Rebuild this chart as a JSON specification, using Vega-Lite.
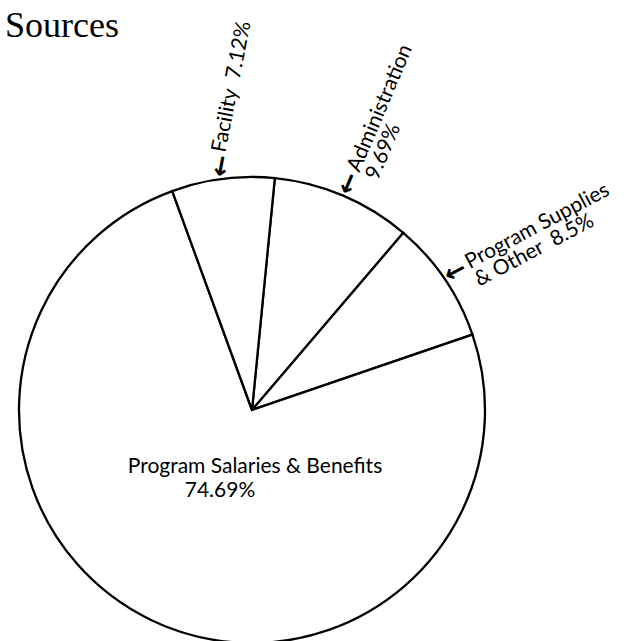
{
  "$schema": "https://vega.github.io/schema/vega-lite/v6.json",
  "width": 504,
  "height": 460,
  "autosize": "none",
  "padding": {"left": 0, "top": 180, "right": 129, "bottom": 1},
  "background": "white",
  "config": {"view": {"stroke": null}},
  "title": {
    "text": "Sources",
    "anchor": "start",
    "frame": "group",
    "font": "Liberation Serif",
    "fontSize": 36,
    "fontWeight": "normal",
    "color": "black",
    "baseline": "alphabetic",
    "offset": -53,
    "dx": 5
  },
  "data": {
    "values": [
      {"category": "Administration", "value": 9.69, "label": "Administration\n\u00a0\u00a0\u00a09.69%"},
      {"category": "Program Supplies & Other", "value": 8.5, "label": "Program Supplies\n& Other\u00a0\u00a08.5%"},
      {"category": "Program Salaries & Benefits", "value": 74.69, "label": "Program Salaries & Benefits", "pct": "74.69%"},
      {"category": "Facility", "value": 7.12, "label": "Facility\u00a0\u00a07.12%"}
    ]
  },
  "layer": [
    {
      "mark": {"type": "arc", "outerRadius": 233, "fill": "white", "stroke": "black", "strokeWidth": 2.3},
      "encoding": {
        "theta": {"field": "value", "type": "quantitative", "stack": true, "scale": {"range": [0.7069, 6.9901]}},
        "order": {"field": "category", "sort": "descending"}
      }
    },
    {
      "mark": {"type": "text", "radius": 246, "font": "DejaVu Sans", "fontSize": 26, "fontWeight": "bold", "align": "center", "baseline": "middle", "fill": "black"},
      "encoding": {
        "theta": {"field": "value", "type": "quantitative", "stack": true},
        "order": {"field": "category", "sort": "descending"},
        "text": {"condition": {"test": "datum.category === 'Program Salaries & Benefits'", "value": ""}, "value": "←"},
        "angle": {"field": "category", "type": "nominal", "legend": null,
          "scale": {"type": "ordinal", "domain": ["Facility", "Administration", "Program Supplies & Other", "Program Salaries & Benefits"], "range": [-79, -67, -28, 0]}}
      }
    },
    {
      "mark": {"type": "text", "radius": 260, "font": "Lato", "fontSize": 21, "lineHeight": 20, "lineBreak": "\n", "align": "left", "baseline": "middle", "fill": "black"},
      "encoding": {
        "theta": {"field": "value", "type": "quantitative", "stack": true},
        "order": {"field": "category", "sort": "descending"},
        "text": {"condition": {"test": "datum.category === 'Program Salaries & Benefits'", "value": ""}, "field": "label"},
        "angle": {"field": "category", "type": "nominal", "legend": null,
          "scale": {"type": "ordinal", "domain": ["Facility", "Administration", "Program Supplies & Other", "Program Salaries & Benefits"], "range": [-79, -67, -28, 0]}}
      }
    },
    {
      "transform": [{"filter": "datum.category === 'Program Salaries & Benefits'"}],
      "mark": {"type": "text", "font": "Lato", "fontSize": 21, "align": "center", "baseline": "middle", "fill": "black", "dx": 3, "dy": 57},
      "encoding": {"text": {"field": "label"}}
    },
    {
      "transform": [{"filter": "datum.category === 'Program Salaries & Benefits'"}],
      "mark": {"type": "text", "font": "Lato", "fontSize": 21, "align": "center", "baseline": "middle", "fill": "black", "dx": -32, "dy": 81},
      "encoding": {"text": {"field": "pct"}}
    }
  ]
}
